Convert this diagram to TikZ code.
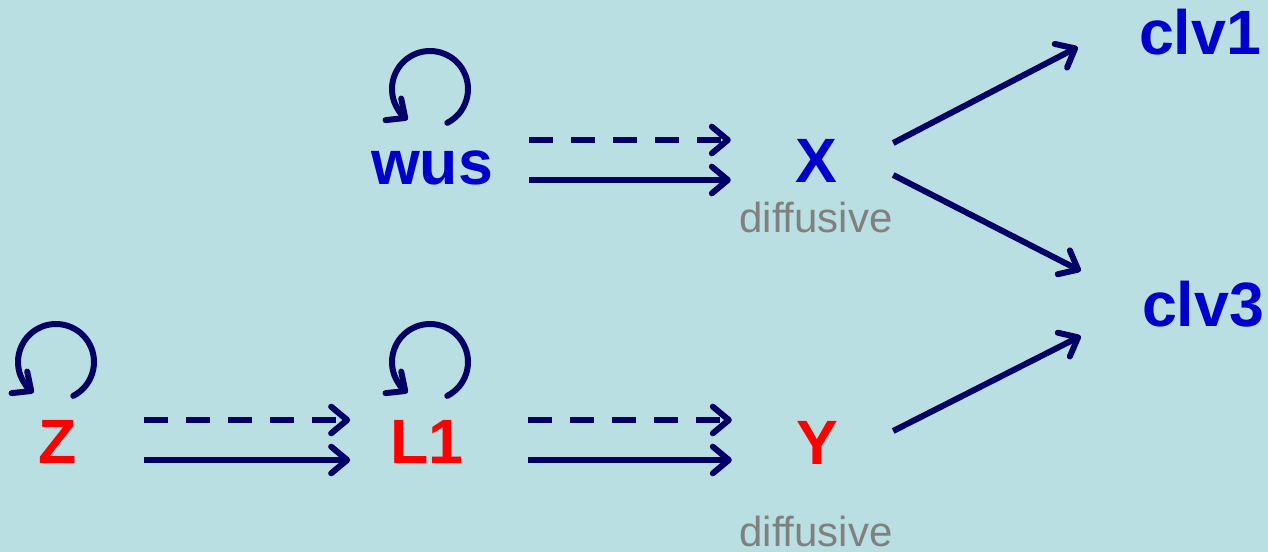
\documentclass[tikz,border=0pt]{standalone}
\usepackage{fontspec}
\setmainfont{Liberation Sans}
\usetikzlibrary{arrows.meta}
\definecolor{bgc}{RGB}{185,223,227}
\definecolor{navyc}{RGB}{0,0,102}
\definecolor{bluec}{RGB}{0,0,204}
\definecolor{redc}{RGB}{255,0,0}
\definecolor{grayc}{RGB}{128,128,128}
\tikzset{
  lbl/.style={inner sep=0pt, anchor=base, font=\fontsize{47}{56}\selectfont\bfseries},
  bluelbl/.style={lbl, text=bluec},
  redlbl/.style={lbl, text=redc},
  note/.style={inner sep=0pt, anchor=base, text=grayc, font=\fontsize{31.5}{37}\selectfont},
  conn/.style={draw=navyc, line width=4.5pt, -{Straight Barb[length=12pt, width=20pt, round]}},
  dconn/.style={conn, dash pattern=on 18pt off 13.5pt},
  selfloop/.style={draw=navyc, line width=4.5pt, line cap=round, -{Straight Barb[length=11pt, width=20pt, round]}}
}
\begin{document}
\begin{tikzpicture}[x=0.75pt, y=-0.75pt]
\useasboundingbox (0,0) rectangle (1268,552);
\fill[bgc] (0,0) rectangle (1268,552);

\node[bluelbl] (wus) at (432,185) {wus};
\node[bluelbl] (X) at (816,183) {X};
\node[bluelbl] (clv1) at (1200,55) {clv1};
\node[bluelbl] (clv3) at (1203,327) {clv3};
\node[redlbl] (Z) at (58,463) {Z};
\node[redlbl] (L1) at (427,463) {L1};
\node[redlbl] (Y) at (817,464) {Y};
\node[note] (d1) at (816,233) {diffusive};
\node[note] (d2) at (816,546) {diffusive};

% self loops
\draw[selfloop] ([shift={(-2,-96)}]wus.base) ++(63:38) arc[start angle=63, end angle=-234, radius=38];
\draw[selfloop] ([shift={(-2,-101)}]Z.base) ++(63:38) arc[start angle=63, end angle=-234, radius=38];
\draw[selfloop] ([shift={(3,-101)}]L1.base) ++(63:38) arc[start angle=63, end angle=-234, radius=38];

% wus -> X
\draw[dconn] ([shift={(36,-45)}]wus.base east) -- ([shift={(-64,-43)}]X.base west);
\draw[conn] ([shift={(36,-5)}]wus.base east) -- ([shift={(-64,-3)}]X.base west);
% Z -> L1
\draw[dconn] ([shift={(67,-43)}]Z.base east) -- ([shift={(-40,-43)}]L1.base west);
\draw[conn] ([shift={(67,-3)}]Z.base east) -- ([shift={(-40,-3)}]L1.base west);
% L1 -> Y
\draw[dconn] ([shift={(64,-43)}]L1.base east) -- ([shift={(-64,-44)}]Y.base west);
\draw[conn] ([shift={(64,-3)}]L1.base east) -- ([shift={(-64,-4)}]Y.base west);
% X -> clv1, clv3 ; Y -> clv3
\draw[conn] ([shift={(56,-40)}]X.base east) -- ([shift={(-61,-8)}]clv1.base west);
\draw[conn] ([shift={(56,-8)}]X.base east) -- ([shift={(-61,-56)}]clv3.base west);
\draw[conn] ([shift={(55,-33)}]Y.base east) -- ([shift={(-61,9)}]clv3.base west);
\end{tikzpicture}
\end{document}
